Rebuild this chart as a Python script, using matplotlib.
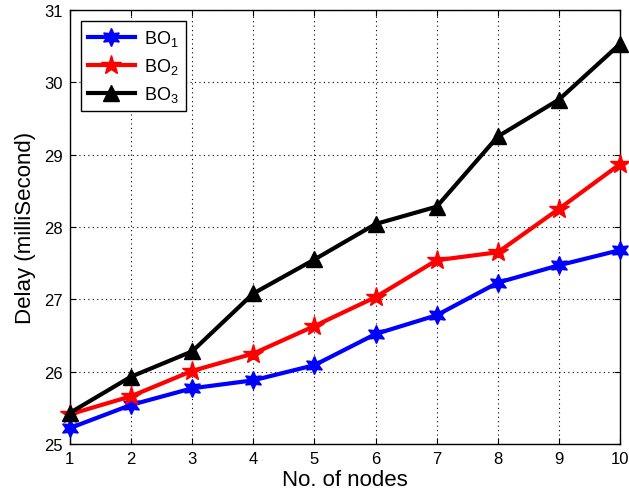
import matplotlib
matplotlib.use("Agg")
import matplotlib.pyplot as plt

plt.rcParams['font.family'] = ['Liberation Sans', 'DejaVu Sans']
plt.rcParams['mathtext.fontset'] = 'custom'
plt.rcParams['mathtext.rm'] = 'Liberation Sans'
plt.rcParams['mathtext.it'] = 'Liberation Sans'

nodes = [1, 2, 3, 4, 5, 6, 7, 8, 9, 10]
bo1 = [25.22, 25.54, 25.77, 25.88, 26.09, 26.52, 26.78, 27.23, 27.47, 27.68]
bo2 = [25.41, 25.66, 26.01, 26.25, 26.63, 27.03, 27.54, 27.65, 28.25, 28.87]
bo3 = [25.43, 25.93, 26.28, 27.08, 27.55, 28.04, 28.28, 29.25, 29.76, 30.53]

fig = plt.figure(figsize=(6.29, 5.02), dpi=100)
ax = fig.add_axes([0.111, 0.1135, 0.875, 0.865])

ax.plot(nodes, bo1, color='blue', lw=3, marker=(6, 1, 0), ms=13, label='BO$_1$', clip_on=False, zorder=3)
ax.plot(nodes, bo2, color='red', lw=3, marker='*', ms=15, label='BO$_2$', clip_on=False, zorder=3)
ax.plot(nodes, bo3, color='black', lw=3, marker='^', ms=11, label='BO$_3$', clip_on=False, zorder=3)

ax.set_xlim(1, 10)
ax.set_ylim(25, 31)
ax.set_xticks(nodes)
ax.set_yticks([25, 26, 27, 28, 29, 30, 31])
ax.tick_params(direction='in', top=True, right=True, labelsize=12, length=4, pad=5)
ax.grid(True, color='black', linestyle=(0, (1, 3)), linewidth=0.8)
for s in ax.spines.values():
    s.set_linewidth(1)

ax.set_xlabel('No. of nodes', fontsize=16, labelpad=2)
ax.set_ylabel('Delay (milliSecond)', fontsize=16, labelpad=6)

leg = ax.legend(loc='upper left', fontsize=13, fancybox=False, edgecolor='black',
                framealpha=1, handlelength=2.6, borderpad=0.4, labelspacing=0.45,
                borderaxespad=0.6, handletextpad=0.5)
leg.get_frame().set_linewidth(1)

fig.savefig('out.png', dpi=100)
